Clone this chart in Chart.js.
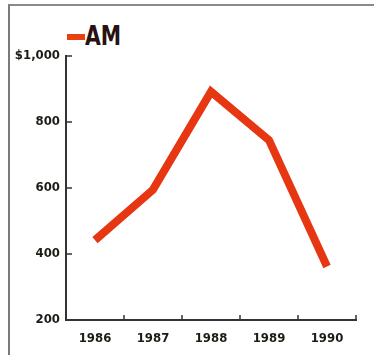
<!DOCTYPE html>
<html>
<head>
<meta charset="utf-8">
<script src="https://cdn.jsdelivr.net/npm/chart.js@4/dist/chart.umd.min.js"></script>
<style>
  html, body { margin: 0; padding: 0; background: #fff; }
  #wrap { position: relative; width: 374px; height: 355px; overflow: hidden; }
  #frame { position: absolute; left: 8px; top: 4px; width: 380px; height: 400px;
           border-left: 2px solid #7a7a7a; border-top: 2px solid #8a8a8a; }
  #legend { position: absolute; left: 67px; top: 21px; font-family: "DejaVu Sans Condensed", sans-serif;
            font-weight: bold; font-size: 27px; color: #2a1212; line-height: 30px; white-space: nowrap; }
  #legend .box { display: inline-block; width: 18px; height: 6px; background: #e8400f; vertical-align: 5px; }
  #legend .txt { display: inline-block; transform: scaleX(0.84); transform-origin: left center; }
  canvas { position: absolute; left: 0; top: 0; }
</style>
</head>
<body>
<div id="wrap">
  <div id="frame"></div>
  <div id="legend"><span class="box"></span><span class="txt">AM</span></div>
  <canvas id="amChart" width="374" height="355"></canvas>
</div>
<script>
// datos del gráfico
const years = ['1986', '1987', '1988', '1989', '1990'];
const amValues = [442, 595, 892, 745, 362];
const yTicks = [200, 400, 600, 800, 1000];

const tickFont = { family: '"DejaVu Sans Condensed", sans-serif', weight: 'bold', size: 13 };

// marcas cortas hacia dentro de los ejes
const innerTicks = {
    id: 'innerTicks',
    afterDraw(chart) {
        const ctx = chart.ctx;
        const x = chart.scales.x, y = chart.scales.y;
        ctx.save();
        ctx.strokeStyle = '#333';
        ctx.lineWidth = 1.5;
        ctx.beginPath();
        const step = x.getPixelForValue(1) - x.getPixelForValue(0);
        years.forEach((yr, i) => {
            const px = x.getPixelForValue(i) + step / 2;
            ctx.moveTo(px, x.top);
            ctx.lineTo(px, x.top - 5);
        });
        yTicks.forEach((v) => {
            if (v === 200) return;
            const py = y.getPixelForValue(v);
            ctx.moveTo(y.right, py);
            ctx.lineTo(y.right + 6, py);
        });
        ctx.stroke();
        ctx.restore();
    }
};

const ctx = document.getElementById('amChart');
new Chart(ctx, {
    type: 'line',
    data: {
        labels: years,
        datasets: [
            {
                label: 'AM',
                data: amValues,
                borderColor: 'rgb(230, 54, 18)',
                borderWidth: 8,
                pointRadius: 0,
                tension: 0,
                borderCapStyle: 'butt',
                borderJoinStyle: 'miter',
            }
        ],
    },
    options: {
        responsive: false,
        animation: false,
        layout: { padding: { top: 56, right: 18, left: 0, bottom: 0 } },
        plugins: {
            legend: { display: false },
            tooltip: { enabled: false },
        },
        scales: {
            x: {
                offset: true,
                grid: { display: false, drawTicks: false },
                border: { display: true, color: '#333', width: 2 },
                ticks: { color: '#1c1c14', font: tickFont, padding: 11 },
                afterFit: (s) => { s.height = 35; },
            },
            y: {
                min: 200,
                max: 1000,
                afterBuildTicks: (s) => { s.ticks = yTicks.map((v) => ({ value: v })); },
                grid: { display: false, drawTicks: false },
                border: { display: true, color: '#333', width: 2 },
                ticks: {
                    color: '#1c1c14',
                    font: tickFont,
                    padding: 6,
                    callback: (v) => (v === 1000 ? '$1,000' : v),
                },
                afterFit: (s) => { s.width = 66; },
            },
        },
    },
    plugins: [innerTicks],
});
</script>
</body>
</html>
